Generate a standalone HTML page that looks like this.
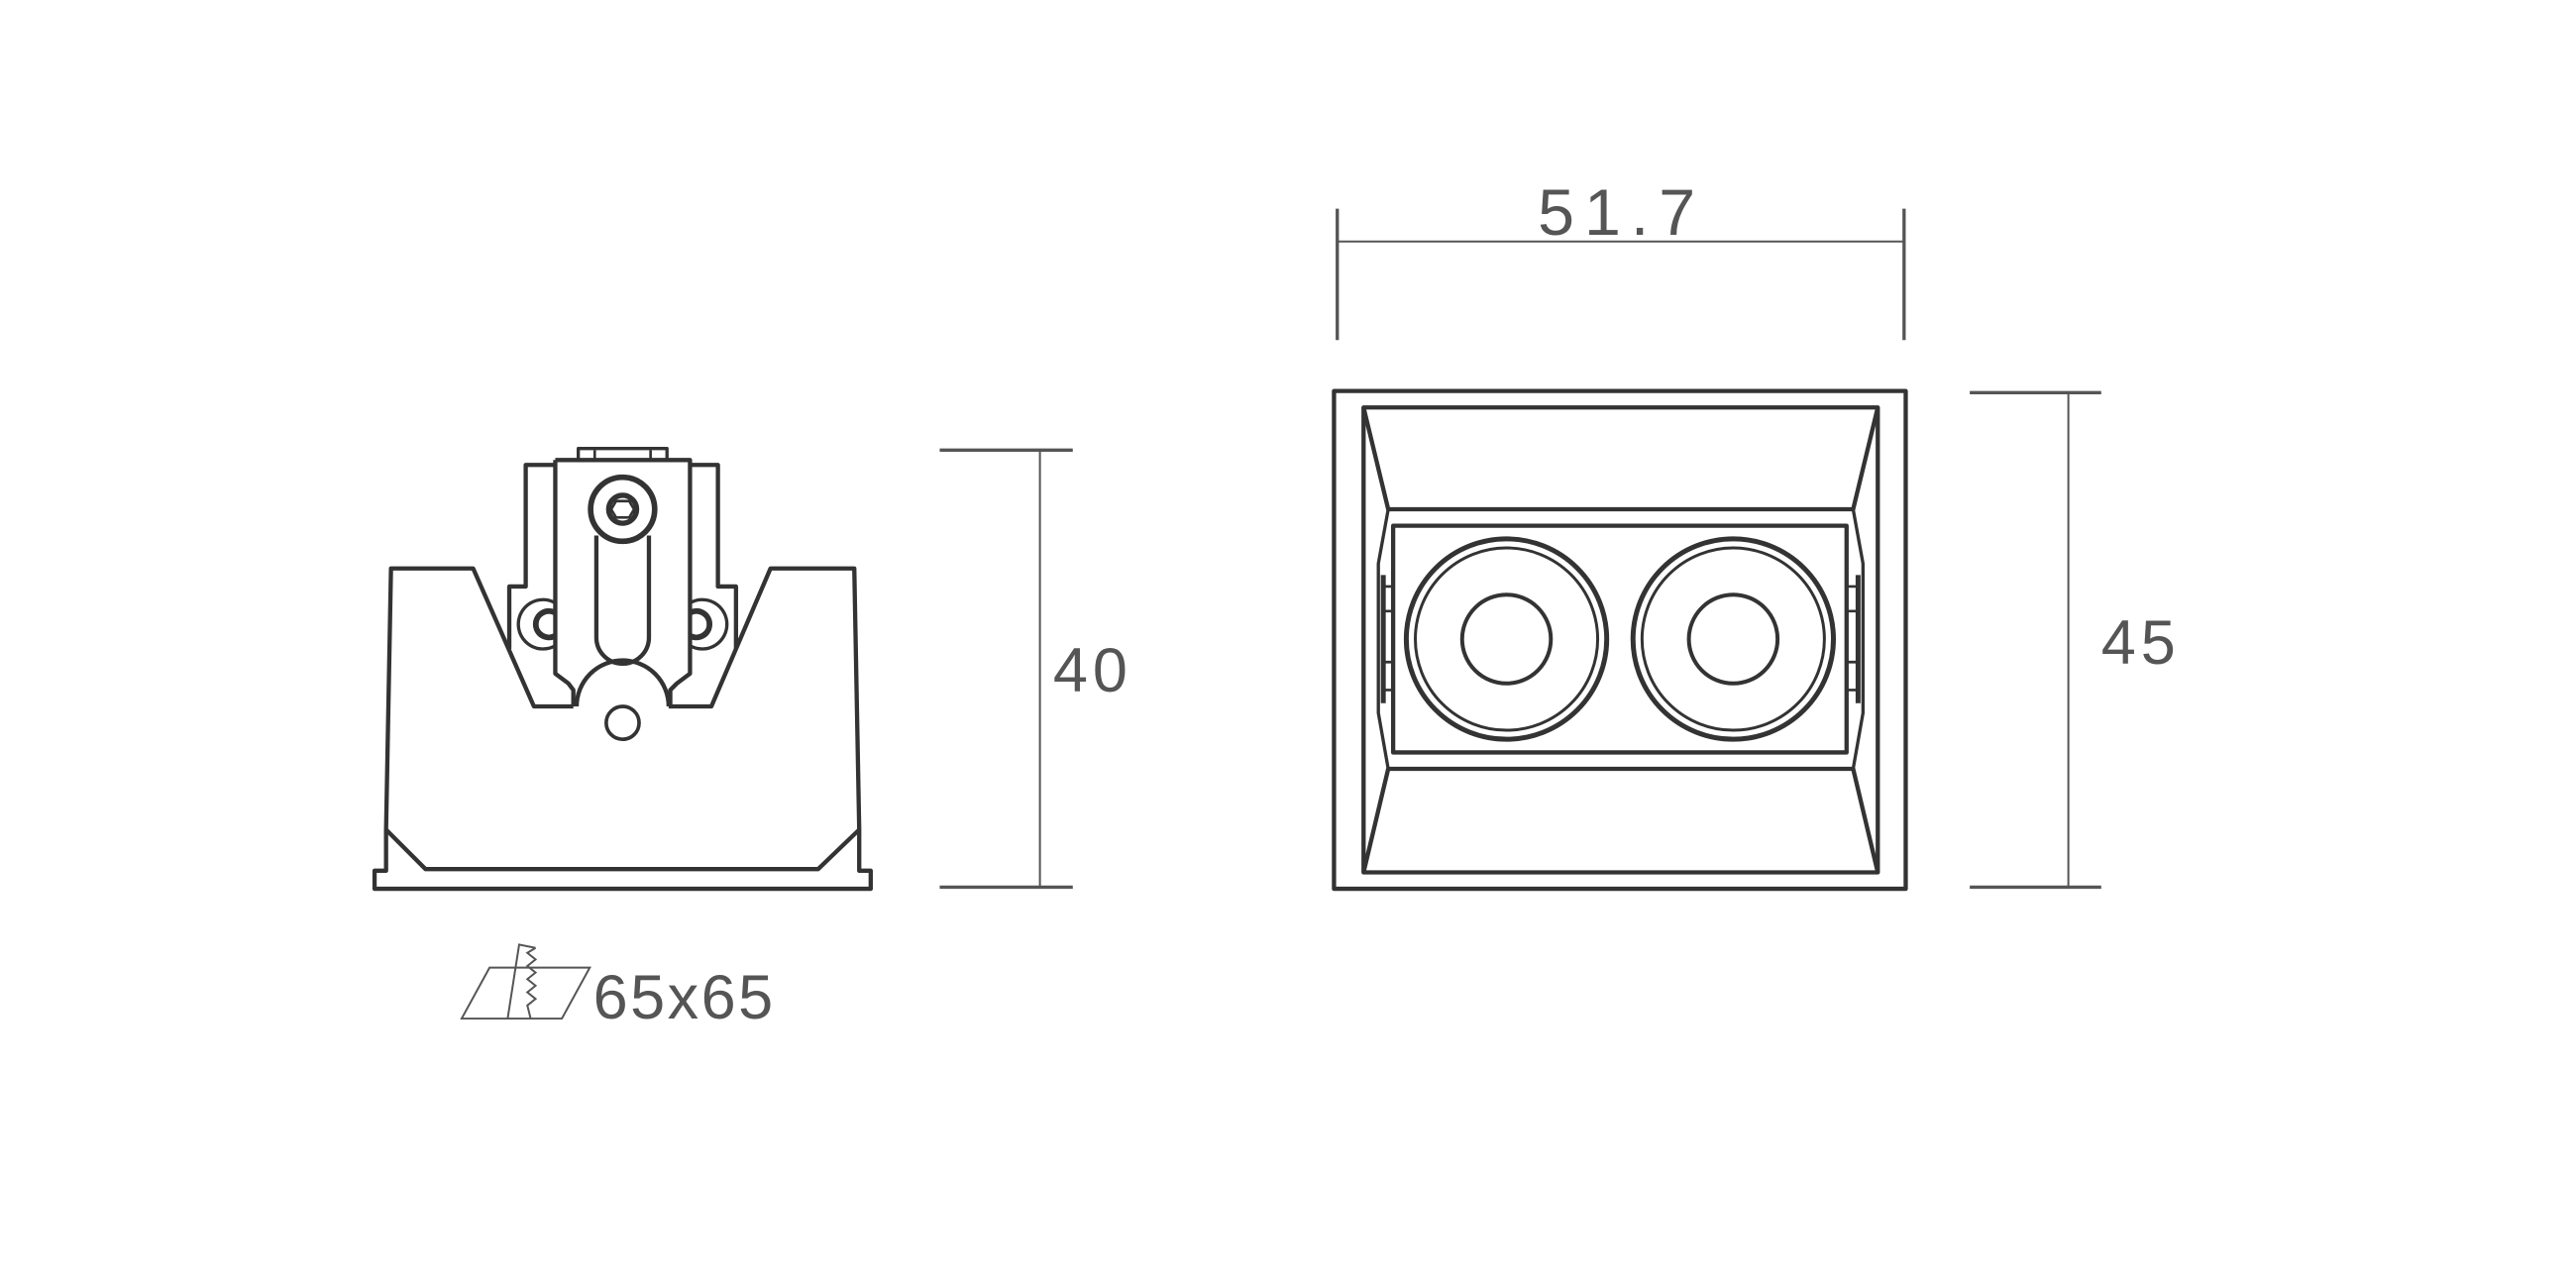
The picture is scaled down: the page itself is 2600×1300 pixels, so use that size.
<!DOCTYPE html>
<html><head><style>html,body{margin:0;padding:0;background:#fff}svg{display:block}</style></head><body>
<svg width="2600" height="1300" viewBox="0 0 1568 784" xmlns="http://www.w3.org/2000/svg">
<g fill="none" stroke="#333" stroke-width="2.6" stroke-linejoin="round">
<!-- left device body -->
<path d="M349,430 L325,430 L288,346 L238,346 L235,505 L235,530 L228,530 L228,541 L530,541 L530,530 L523,530 L523,505 L520,346 L469,346 L433,430 L407,430"/>
<path d="M235,505 L259,529 L498,529 L523,505"/>
<path d="M310,395 L310,357 L320,357 L320,283 L338,283"/>
<path d="M448,395 L448,357 L437,357 L437,283 L420,283"/>
<path d="M338,280 L420,280 L420,410 L412,416 L408,420 L408,430 M338,280 L338,410 L346,416 L349,420 L349,430"/>
<path d="M351,430 A28,28 0 0 1 407,430"/>
<path d="M352,280 L352,273 L406,273 L406,280" stroke-width="2"/>
<path d="M362,274 L362,280 M396,274 L396,280" stroke-width="1.6"/>
<circle cx="379" cy="310" r="19.5" stroke-width="3.4"/>
<circle cx="379" cy="310" r="8.5" stroke-width="3.2"/>
<path d="M375,305 L383,305 L386,310 L383,315 L375,315 L372,310 Z" stroke-width="1.6"/>
<path d="M363,326 L363,388 A16,16 0 0 0 395,388 L395,326"/>
<path d="M338,367 A15,15 0 1 0 338,393" stroke-width="2"/>
<path d="M338,373 A8,8 0 1 0 338,387" stroke-width="3.5"/>
<path d="M420,367 A15,15 0 1 1 420,393" stroke-width="2"/>
<path d="M420,373 A8,8 0 1 1 420,387" stroke-width="3.5"/>
<circle cx="379" cy="440" r="10" stroke-width="2.2"/>
<!-- right device -->
<rect x="812" y="238" width="348" height="303"/>
<rect x="830" y="248" width="313" height="283"/>
<path d="M830,248 L845,310 L1128,310 L1143,248 M830,531 L845,468 L1128,468 L1143,531"/>
<path d="M845,310 L839,343 L839,434 L845,468 M1128,310 L1134,343 L1134,434 L1128,468" stroke-width="2"/>
<path d="M842,350 L842,428 M1131,350 L1131,428" stroke-width="3"/>
<path d="M842,357 L848,357 M842,372 L848,372 M842,403 L848,403 M842,420 L848,420 M1125,357 L1131,357 M1125,372 L1131,372 M1125,403 L1131,403 M1125,420 L1131,420" stroke-width="1.6"/>
<rect x="848" y="320" width="276" height="138"/>
<circle cx="917" cy="389" r="61" stroke-width="3"/>
<circle cx="917" cy="389" r="55.5" stroke-width="1.8"/>
<circle cx="917" cy="389" r="27" stroke-width="2.4"/>
<circle cx="1055" cy="389" r="61" stroke-width="3"/>
<circle cx="1055" cy="389" r="55.5" stroke-width="1.8"/>
<circle cx="1055" cy="389" r="27" stroke-width="2.4"/>
</g>
<!-- dimensions -->
<g stroke="#555" fill="none">
<path d="M572,274 L653,274 M572,540 L653,540" stroke-width="2"/>
<path d="M633,274 L633,540" stroke-width="1.2"/>
<path d="M814,127 L814,207 M1159,127 L1159,207" stroke-width="2"/>
<path d="M814,147 L1159,147" stroke-width="1.2"/>
<path d="M1199,239 L1279,239 M1199,540 L1279,540" stroke-width="2"/>
<path d="M1259,239 L1259,540" stroke-width="1.2"/>
<!-- cut icon -->
<path d="M281,620 L298,589 L359,589 L342,620 Z M309,620 L316,575 L326,577" stroke-width="1.2"/>
<path d="M326,577 L321,580 L326,584 L321,588 L326,592 L321,596 L326,600 L321,604 L326,608 L321,612 L323,620" stroke-width="1.2"/>
</g>
<g fill="#555" font-family="Liberation Sans, sans-serif">
<text x="641" y="421" font-size="38" letter-spacing="3">40</text>
<text x="987" y="143" font-size="40" text-anchor="middle" letter-spacing="6">51.7</text>
<text x="1279" y="404" font-size="38" letter-spacing="3">45</text>
<text x="361" y="620" font-size="38" letter-spacing="1.5">65x65</text>
</g>
</svg>
</body></html>
